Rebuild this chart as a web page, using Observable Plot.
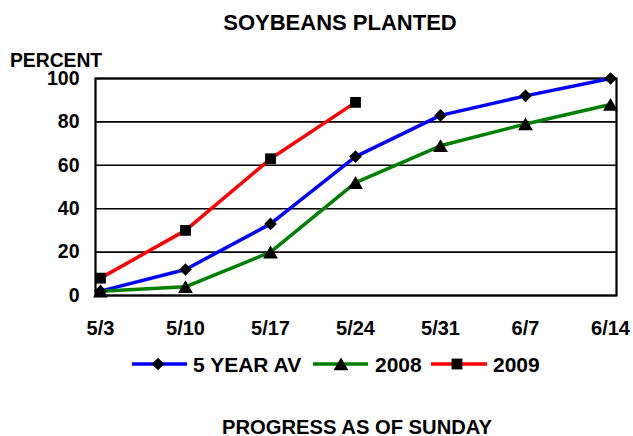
<!DOCTYPE html>
<html>
<head>
<meta charset="utf-8">
<script src="https://cdn.jsdelivr.net/npm/d3@7"></script>
<script src="https://cdn.jsdelivr.net/npm/@observablehq/plot@0.6"></script>
<style>
  html, body { margin: 0; padding: 0; background: #fff; }
  #wrap { position: relative; width: 633px; height: 436px; overflow: hidden; }
  #wrap svg { position: absolute; left: 0; top: 0; }
</style>
</head>
<body>
<div id="wrap"></div>
<script>
const dates = ["5/3", "5/10", "5/17", "5/24", "5/31", "6/7", "6/14"];
const avg5 = [2, 12, 33, 64, 83, 92, 100];
const y2008 = [2, 4, 20, 52, 69, 79, 88];
const y2009 = [8, 30, 63, 89];
const yTicks = [0, 20, 40, 60, 80, 100];
const seriesNames = ["5 YEAR AV", "2008", "2009"];
const seriesColors = ["#0000FF", "#008000", "#FF0000"];

const font = "'Liberation Sans', Arial, sans-serif";

const rows = (vals, name) => vals.map((v, i) => ({date: dates[i], value: v, series: name}));
const dAvg = rows(avg5, seriesNames[0]);
const d08 = rows(y2008, seriesNames[1]);
const d09 = rows(y2009, seriesNames[2]);

const W = 633, H = 436;
const chart = Plot.plot({
  width: W,
  height: H,
  marginLeft: 95,
  marginRight: 17,
  marginTop: 78,
  marginBottom: 141,
  style: {fontFamily: font, background: "transparent", overflow: "visible"},
  x: {type: "point", domain: dates, padding: 0, insetLeft: 5, insetRight: 6},
  y: {domain: [0, 100], ticks: yTicks},
  marks: [
    Plot.ruleY(yTicks, {stroke: "#000", strokeWidth: 1.6}),
    Plot.frame({stroke: "#000", strokeWidth: 2.2}),
    Plot.axisY(yTicks, {tickSize: 0, tickPadding: 16, fontSize: 19.5, fontWeight: "bold", fill: "#000", label: null}),
    Plot.axisX({tickSize: 0, tickPadding: 25, fontSize: 20, fontWeight: "bold", fill: "#000", label: null}),
    Plot.line(dAvg, {x: "date", y: "value", stroke: seriesColors[0], strokeWidth: 3.5}),
    Plot.line(d08, {x: "date", y: "value", stroke: seriesColors[1], strokeWidth: 3.5}),
    Plot.line(d09, {x: "date", y: "value", stroke: seriesColors[2], strokeWidth: 3.5}),
    Plot.dot(dAvg, {x: "date", y: "value", symbol: d3.symbolDiamond2, r: 5.7, fill: "#000", stroke: "none"}),
    Plot.dot(d08, {x: "date", y: "value", symbol: "triangle", r: 5.5, fill: "#000", stroke: "none", dy: 2}),
    Plot.dot(d09, {x: "date", y: "value", symbol: "square", r: 6.1, fill: "#000", stroke: "none"})
  ]
});
document.getElementById("wrap").appendChild(chart);

// Overlay with titles and legend
const ov = d3.create("svg").attr("width", W).attr("height", H)
  .attr("font-family", font).attr("font-weight", "bold").attr("fill", "#000");
ov.append("text").attr("x", 340).attr("y", 30).attr("text-anchor", "middle")
  .attr("font-size", 22).text("SOYBEANS PLANTED");
ov.append("text").attr("x", 10).attr("y", 66.5).attr("text-anchor", "start")
  .attr("font-size", 19.3).text("PERCENT");
ov.append("text").attr("x", 357).attr("y", 433.5).attr("text-anchor", "middle")
  .attr("font-size", 20.2).text("PROGRESS AS OF SUNDAY");

// Legend
const legY = 364;
const legend = [
  {x1: 132, x2: 187, sx: 158, tx: 193, sym: d3.symbolDiamond2, size: 102},
  {x1: 313, x2: 368, sx: 341, tx: 375, sym: d3.symbolTriangle, size: 95},
  {x1: 431, x2: 487, sx: 457, tx: 493, sym: d3.symbolSquare, size: 117}
];
legend.forEach((l, i) => {
  ov.append("line").attr("x1", l.x1).attr("x2", l.x2).attr("y1", legY).attr("y2", legY)
    .attr("stroke", seriesColors[i]).attr("stroke-width", 3.5);
  ov.append("path").attr("d", d3.symbol(l.sym, l.size)())
    .attr("transform", `translate(${l.sx},${legY + (i === 1 ? 2 : 0)})`).attr("fill", "#000");
  ov.append("text").attr("x", l.tx).attr("y", legY + 7.5).attr("font-size", 21).text(seriesNames[i]);
});
document.getElementById("wrap").appendChild(ov.node());
</script>
</body>
</html>
